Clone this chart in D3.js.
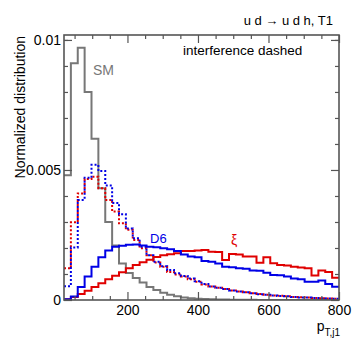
<!DOCTYPE html>
<html>
<head>
<meta charset="utf-8">
<script src="https://cdn.jsdelivr.net/npm/d3@7"></script>
<style>
  body { margin: 0; background: #fff; }
  svg { display: block; font-family: "Liberation Sans", Arial, Helvetica, sans-serif; }
</style>
</head>
<body>
<div id="chart"></div>
<script>
// histogram: 40 bins between 20 and 800
const xMin = 20;
const xMax = 800;
const nBins = 40;

const smValues = [
  0.0048, 0.0091, 0.0097, 0.0080, 0.0062, 0.0043, 0.0030, 0.0021, 0.0014, 0.00104,
  0.00085, 0.00067, 0.00050, 0.00038, 0.00028, 0.00020, 0.00014, 0.00010, 0.00007, 0.00005,
  0.00004, 0.00003, 0.00002, 0.00002, 0.00001, 0.00001, 0.00001, 0.00001, 0, 0,
  0, 0, 0, 0, 0, 0, 0, 0, 0, 0,
];

const d6Values = [
  0.00003, 0.00013, 0.00050, 0.00090, 0.00128, 0.00164, 0.00190, 0.00205, 0.00209, 0.00212,
  0.00213, 0.00210, 0.00205, 0.00203, 0.00199, 0.00195, 0.00188, 0.00175, 0.00167, 0.00164,
  0.00150, 0.00147, 0.00140, 0.00128, 0.00126, 0.00122, 0.00120, 0.00113, 0.00112, 0.00105,
  0.00096, 0.00095, 0.00090, 0.00083, 0.00080, 0.00070, 0.00070, 0.00075, 0.00062, 0.00051,
];

const xiValues = [
  0.00003, 0.00012, 0.00023, 0.00036, 0.00050, 0.00064, 0.00080, 0.00093, 0.00107, 0.00122,
  0.00135, 0.00145, 0.00155, 0.00165, 0.00172, 0.00176, 0.00180, 0.00188, 0.00188, 0.00190,
  0.00192, 0.00186, 0.00185, 0.00154, 0.00177, 0.00175, 0.00167, 0.00167, 0.00143, 0.00164,
  0.00141, 0.00135, 0.00133, 0.00128, 0.00125, 0.00122, 0.00094, 0.00113, 0.00108, 0.00086,
];

// interference (dashed)
const d6IntValues = [
  0.00053, 0.00202, 0.00385, 0.00470, 0.00520, 0.00496, 0.00440, 0.00373, 0.00330, 0.00275,
  0.00237, 0.00205, 0.00172, 0.00147, 0.00130, 0.00115, 0.00103, 0.00092, 0.00083, 0.00072,
  0.00062, 0.00052, 0.00047, 0.00042, 0.00037, 0.00033, 0.00030, 0.00026, 0.00022, 0.00020,
  0.00017, 0.00015, 0.00014, 0.00012, 0.00010, 0.00010, 0.00008, 0.00007, 0.00006, 0.00005,
];

const xiIntValues = [
  0.00122, 0.00299, 0.00410, 0.00465, 0.00474, 0.00430, 0.00385, 0.00340, 0.00295, 0.00270,
  0.00231, 0.00199, 0.00172, 0.00144, 0.00128, 0.00108, 0.00098, 0.00090, 0.00080, 0.00070,
  0.00060, 0.00052, 0.00047, 0.00042, 0.00037, 0.00033, 0.00030, 0.00026, 0.00023, 0.00020,
  0.00017, 0.00016, 0.00014, 0.00012, 0.00011, 0.00010, 0.00008, 0.00007, 0.00006, 0.00005,
];

const xTicks = [200, 400, 600, 800];
const xMinorTicks = [50, 100, 150, 250, 300, 350, 450, 500, 550, 650, 700, 750];
const yTicks = [0, 0.005, 0.01];
const yTickLabels = ["0", "0.005", "0.01"];
const yMinorTicks = [0.001, 0.002, 0.003, 0.004, 0.006, 0.007, 0.008, 0.009, 0.010];

const width = 357;
const height = 350;
const margin = { top: 35, right: 18, bottom: 50, left: 64 };

const colors = { sm: "#777777", d6: "#0000e6", xi: "#e00000", frame: "#555555" };

const svg = d3.select("#chart").append("svg")
  .attr("width", width)
  .attr("height", height);

const x = d3.scaleLinear()
  .domain([xMin, xMax])
  .range([margin.left, width - margin.right]);

const y = d3.scaleLinear()
  .domain([0, 0.01019])
  .range([height - margin.bottom, margin.top]);

const binWidth = (xMax - xMin) / nBins;
const edges = d3.range(nBins).map((i) => xMin + binWidth * i);

const plotBottom = y.range()[0];
const plotTop = margin.top;
const plotLeft = margin.left;
const plotRight = x.range()[1];

svg.append("clipPath").attr("id", "plot-clip")
  .append("rect")
  .attr("x", plotLeft)
  .attr("y", plotTop)
  .attr("width", plotRight - plotLeft)
  .attr("height", plotBottom - plotTop);

const step = d3.line()
  .x((d) => x(d[0]))
  .y((d) => y(d[1]))
  .curve(d3.curveStepAfter);

function histPoints(values) {
  const pts = values.map((v, i) => [edges[i], v]);
  pts.push([xMax, values[values.length - 1]]);
  return pts;
}

const series = [
  { values: smValues, color: colors.sm, dash: null },
  { values: xiIntValues, color: colors.xi, dash: "2,2" },
  { values: d6IntValues, color: colors.d6, dash: "2,2" },
  { values: xiValues, color: colors.xi, dash: null },
  { values: d6Values, color: colors.d6, dash: null },
];

const plot = svg.append("g").attr("clip-path", "url(#plot-clip)");

plot.selectAll(".hist")
  .data(series)
  .join("path")
  .attr("class", "hist")
  .attr("d", (d) => step(histPoints(d.values)))
  .attr("fill", "none")
  .attr("stroke", (d) => d.color)
  .attr("stroke-width", 2)
  .attr("stroke-dasharray", (d) => d.dash);

// axes: ticks pointing inward on all four sides
function styleAxis(g) {
  g.select(".domain").remove();
  g.selectAll(".tick line").attr("stroke", colors.frame).attr("stroke-width", 1.2);
  g.selectAll(".tick text").attr("fill", "#000").style("font-size", "14px");
}

svg.append("g")
  .attr("transform", `translate(0,${plotBottom})`)
  .call(d3.axisBottom(x).tickValues(xTicks).tickSize(-8).tickPadding(5).tickFormat(d3.format("d")))
  .call(styleAxis);
svg.append("g")
  .attr("transform", `translate(0,${plotBottom})`)
  .call(d3.axisBottom(x).tickValues(xMinorTicks).tickSize(-4).tickFormat(""))
  .call(styleAxis);
svg.append("g")
  .attr("transform", `translate(0,${plotTop})`)
  .call(d3.axisTop(x).tickValues(xTicks).tickSize(-8).tickFormat(""))
  .call(styleAxis);
svg.append("g")
  .attr("transform", `translate(0,${plotTop})`)
  .call(d3.axisTop(x).tickValues(xMinorTicks).tickSize(-4).tickFormat(""))
  .call(styleAxis);

svg.append("g")
  .attr("transform", `translate(${plotLeft},0)`)
  .call(d3.axisLeft(y).tickValues(yTicks).tickSize(-8).tickPadding(3)
    .tickFormat((d, i) => yTickLabels[i]))
  .call(styleAxis);
svg.append("g")
  .attr("transform", `translate(${plotLeft},0)`)
  .call(d3.axisLeft(y).tickValues(yMinorTicks).tickSize(-4).tickFormat(""))
  .call(styleAxis);
svg.append("g")
  .attr("transform", `translate(${plotRight},0)`)
  .call(d3.axisRight(y).tickValues(yTicks).tickSize(-8).tickFormat(""))
  .call(styleAxis);
svg.append("g")
  .attr("transform", `translate(${plotRight},0)`)
  .call(d3.axisRight(y).tickValues(yMinorTicks).tickSize(-4).tickFormat(""))
  .call(styleAxis);

// frame
svg.append("rect")
  .attr("x", plotLeft)
  .attr("y", plotTop)
  .attr("width", plotRight - plotLeft)
  .attr("height", plotBottom - plotTop)
  .attr("fill", "none")
  .attr("stroke", colors.frame)
  .attr("stroke-width", 1.6);

// labels
svg.append("text")
  .attr("x", 333)
  .attr("y", 25)
  .attr("text-anchor", "end")
  .style("font-size", "13px")
  .text("u d \u2192 u d h, T1");

svg.append("text")
  .attr("x", 183)
  .attr("y", 55)
  .style("font-size", "13.5px")
  .text("interference dashed");

svg.append("text")
  .attr("x", 93)
  .attr("y", 75)
  .attr("fill", colors.sm)
  .style("font-size", "14px")
  .text("SM");

svg.append("text")
  .attr("x", 150)
  .attr("y", 243)
  .attr("fill", colors.d6)
  .style("font-size", "13px")
  .text("D6");

svg.append("text")
  .attr("x", 231)
  .attr("y", 245)
  .attr("fill", colors.xi)
  .style("font-size", "14px")
  .text("\u03be");

svg.append("text")
  .attr("transform", "translate(25,36) rotate(-90)")
  .attr("text-anchor", "end")
  .style("font-size", "14px")
  .text("Normalized distribution");

const xLabel = svg.append("text")
  .attr("x", 340)
  .attr("y", 331)
  .attr("text-anchor", "end")
  .style("font-size", "14px");
xLabel.append("tspan").text("p");
xLabel.append("tspan")
  .attr("dy", 5)
  .style("font-size", "10px")
  .text("T,j1");
</script>
</body>
</html>
